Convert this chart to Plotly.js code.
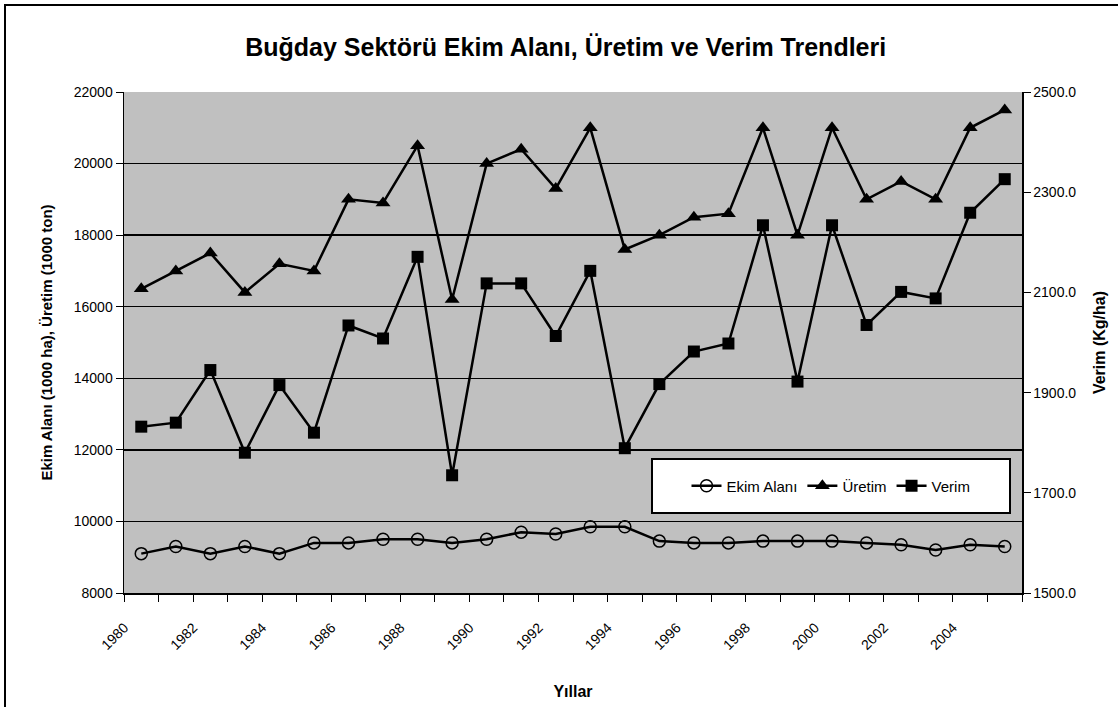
<!DOCTYPE html>
<html>
<head>
<meta charset="utf-8">
<script src="https://cdn.plot.ly/plotly-3.0.1.min.js"></script>
<style>
  html, body { margin: 0; padding: 0; background: #fff; overflow: hidden; }
  #wrap { position: relative; width: 1118px; height: 707px; }
  #chart { position: absolute; left: 0; top: 0; width: 1118px; height: 707px; }
  #frame { position: absolute; left: 4px; top: 4px; width: 1300px; height: 900px;
           border-left: 2px solid #000; border-top: 2px solid #000; pointer-events: none; }
</style>
</head>
<body>
<div id="wrap">
  <div id="chart"></div>
  <div id="frame"></div>
</div>
<script>
// ---- data ----
const years = [1980,1981,1982,1983,1984,1985,1986,1987,1988,1989,1990,1991,1992,
               1993,1994,1995,1996,1997,1998,1999,2000,2001,2002,2003,2004,2005];
const ekimAlani = [9100,9300,9100,9300,9100,9400,9400,9500,9500,9400,9500,9700,9650,
                   9850,9850,9450,9400,9400,9450,9450,9450,9400,9350,9200,9350,9300];
const uretim = [16500,17000,17500,16400,17200,17000,19000,18900,20500,16200,20000,20400,19300,
                21000,17600,18000,18500,18600,21000,18000,21000,19000,19500,19000,21000,21500];
const verim = [1832,1840,1945,1780,1915,1820,2034,2008,2171,1735,2118,2118,2013,
               2143,1789,1917,1982,1998,2234,1922,2234,2035,2101,2088,2259,2326];
const xTickVals = [1980,1982,1984,1986,1988,1990,1992,1994,1996,1998,2000,2002,2004];
const xTickText = xTickVals.map(String);
const seriesNames = ['Ekim Alanı', 'Üretim', 'Verim'];

const FONT = 'Liberation Sans, Arial, sans-serif';

const traces = [
  { x: years, y: ekimAlani, name: seriesNames[0], type: 'scatter', mode: 'lines+markers',
    line: { color: '#000', width: 2.5 },
    marker: { symbol: 'circle-open', size: 12, color: '#000', line: { width: 1.5, color: '#000' } } },
  { x: years, y: uretim, name: seriesNames[1], type: 'scatter', mode: 'lines+markers',
    line: { color: '#000', width: 2.5 },
    marker: { symbol: 'triangle-up', size: 13, color: '#000' } },
  { x: years, y: verim, name: seriesNames[2], type: 'scatter', mode: 'lines+markers', yaxis: 'y2',
    line: { color: '#000', width: 2.5 },
    marker: { symbol: 'square', size: 12, color: '#000' } }
];

const L = 124, R = 96, T = 92, B = 114;
const PW = 1118 - L - R, PH = 707 - T - B;

const layout = {
  width: 1118, height: 707,
  margin: { l: L, r: R, t: T, b: B },
  paper_bgcolor: '#fff',
  plot_bgcolor: '#C0C0C0',
  font: { family: FONT, color: '#000', size: 14 },
  title: { text: '<b>Buğday Sektörü Ekim Alanı, Üretim ve Verim Trendleri</b>',
           font: { family: FONT, size: 25, color: '#000' },
           x: 0.506, xanchor: 'center', y: 0.933, yanchor: 'middle' },
  showlegend: true,
  legend: { orientation: 'h', x: (831 - L) / PW, xanchor: 'center',
            y: (593 - 486) / PH, yanchor: 'middle',
            bgcolor: 'rgba(0,0,0,0)', borderwidth: 0,
            font: { family: FONT, size: 15, color: '#000' }, itemwidth: 30 },
  shapes: [
    { type: 'rect', xref: 'paper', yref: 'paper', layer: 'above',
      x0: (652 - L) / PW, x1: (1010 - L) / PW, y0: (593 - 513) / PH, y1: (593 - 459) / PH,
      fillcolor: '#fff', line: { color: '#000', width: 2 } }
  ],
  xaxis: {
    range: [1979.5, 2005.5], tickmode: 'array', tickvals: xTickVals, ticktext: xTickText,
    tickangle: -45, ticks: '', showgrid: false, zeroline: false,
    showline: true, linecolor: '#000', linewidth: 2,
    ticklabelshift: -17, ticklabelstandoff: 19,
    tickfont: { family: FONT, size: 14, color: '#000' },
    minor: { tickmode: 'linear', tick0: 1979.5, dtick: 1, ticks: 'outside', ticklen: 7,
             tickcolor: '#000', tickwidth: 1, showgrid: false },
    title: { text: '<b>Yıllar</b>', font: { family: FONT, size: 16, color: '#000' }, standoff: 34 }
  },
  yaxis: {
    range: [8000, 22000], tickmode: 'linear', tick0: 8000, dtick: 2000, tickformat: 'd',
    ticks: 'outside', ticklen: 7, tickcolor: '#000', tickwidth: 1,
    showline: true, linecolor: '#000', linewidth: 1.5,
    showgrid: true, gridcolor: '#000', gridwidth: 1.5, zeroline: false,
    tickfont: { family: FONT, size: 14, color: '#000' },
    title: { text: '<b>Ekim Alanı (1000 ha), Üretim (1000 ton)</b>',
             font: { family: FONT, size: 15, color: '#000' }, standoff: 17 }
  },
  yaxis2: {
    range: [1500, 2500], tickmode: 'linear', tick0: 1500, dtick: 200, tickformat: '.1f',
    overlaying: 'y', side: 'right', anchor: 'x',
    ticks: 'outside', ticklen: 7, tickcolor: '#000', tickwidth: 1,
    showline: true, linecolor: '#000', linewidth: 1.5,
    showgrid: false, zeroline: false,
    tickfont: { family: FONT, size: 14, color: '#000' },
    title: { text: '<b>Verim (Kg/ha)</b>', font: { family: FONT, size: 16, color: '#000' }, standoff: 18 }
  }
};

Plotly.newPlot('chart', traces, layout, { displayModeBar: false, staticPlot: true });
</script>
</body>
</html>
